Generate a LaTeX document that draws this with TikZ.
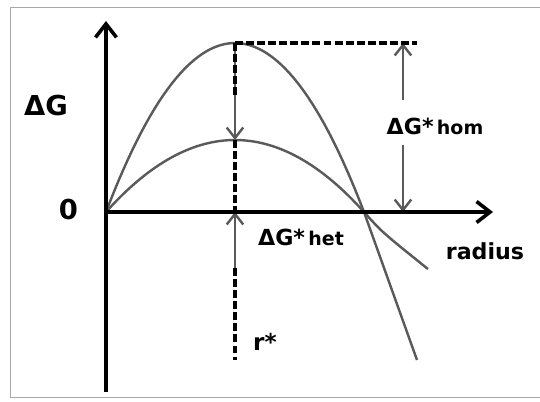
\documentclass[tikz,border=0pt]{standalone}
\usepackage{fontspec}
\setmainfont{DejaVu Sans}
\usepackage{xcolor}
\usepackage{tikz}
\usetikzlibrary{positioning, arrows.meta, calc}

\definecolor{curvegray}{HTML}{5A5A5A}
\definecolor{framegray}{HTML}{A8A8A8}

\newcommand{\barrier}[2]{{\fontsize{21}{24}\selectfont\bfseries #1} {\fontsize{18}{20}\selectfont\bfseries #2}}

\begin{document}
\begin{tikzpicture}[
    axisline/.style={line width=3.4pt, -{Straight Barb[length=4.5mm, width=7mm]}},
    energy/.style={curvegray, line width=2.3pt},
    garrow/.style={curvegray, line width=2.3pt, -{Straight Barb[length=3.5mm, width=5.5mm]}},
    guide/.style={line width=3.4pt, dash pattern=on 7.5pt off 3pt},
    lbl/.style={inner sep=1pt}
  ]
      \useasboundingbox (-3.533,-6.333) rectangle (14.467,7.067);

      % Frame
      \draw[framegray, line width=0.9pt] (16,6.833) -| (-3.177,-6.167) -- (16,-6.167);

      % Points
      \coordinate (O) at (0, 0);
      \coordinate (ytop) at (0, 6.367);
      \coordinate (ybot) at (0, -6);
      \coordinate (xend) at (12.9, 0);
      \coordinate (hompk) at (4.3, 5.633);
      \coordinate (hetpk) at (4.3, 2.4);
      \coordinate (homend) at (10.367, 5.633);
      \coordinate (dashend) at (4.3, 3.833);
      \coordinate (rlow) at (4.3, -4.933);
      \coordinate (hetlow) at (4.3, -1.867);
      \coordinate (hetaxis) at (4.3, 0);
      \coordinate (homa) at (9.9, 3.733);
      \coordinate (homb) at (9.9, 5.633);
      \coordinate (homc) at (9.9, 2.233);
      \coordinate (homd) at (9.9, 0);

      % Curves
      \draw[energy] plot[domain=0:8.6, samples=60] (\x, {5.633*\x*(8.6-\x)/18.49}) -- (10.367, -4.933);
      \draw[energy] plot[domain=0:8.6, samples=60] (\x, {2.4*\x*(8.6-\x)/18.49}) .. controls (9.2, -0.67) .. (10.733, -1.9);

      % Arrows
      \draw[garrow] (hompk) -- (hetpk);
      \draw[garrow] (hetlow) -- (hetaxis);
      \draw[garrow] (homa) -- (homb);
      \draw[garrow] (homc) -- (homd);

      % Dashed guides
      \draw[guide] (hompk) -- (homend);
      \draw[guide] (hompk) -- (dashend);
      \draw[guide] (hetpk) -- (hetaxis);
      \draw[guide] (hetlow) -- (rlow);

      % Axes
      \draw[axisline] (ybot) -- (ytop);
      \draw[axisline] (O) -- (xend);

      % Labels
      \node[lbl, font=\fontsize{26}{30}\selectfont\bfseries] (dg) at (-2.0, 3.533) {ΔG};
      \node[lbl, font=\fontsize{26}{30}\selectfont\bfseries] (zero) at (-1.25, 0.067) {0};
      \node[lbl, font=\fontsize{21}{24}\selectfont\bfseries] (radius) at (12.633, -1.3) {radius};
      \node[lbl] (homlbl) at (10.967, 2.867) {\barrier{ΔG*}{hom}};
      \node[lbl] (hetlbl) at (6.5, -0.833) {\barrier{ΔG*}{het}};
      \node[lbl, font=\fontsize{22}{26}\selectfont\bfseries] (rstar) at (5.3, -4.333) {r*};
\end{tikzpicture}
\end{document}
